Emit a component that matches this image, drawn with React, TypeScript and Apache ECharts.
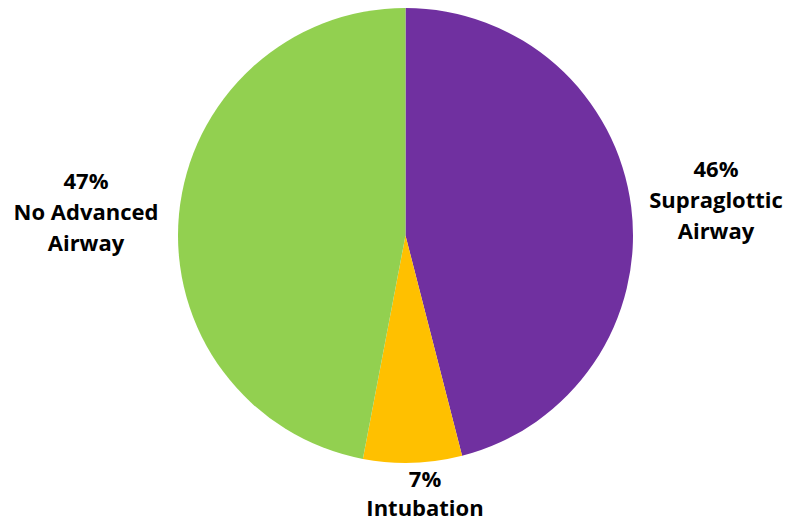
import React, { useEffect, useRef } from "react";
import * as echarts from "echarts";

const categories = ["Supraglottic\nAirway", "Intubation", "No Advanced\nAirway"];
const values = [46, 7, 47];
const colors = ["#7030A0", "#FFC000", "#92D050"];
const labelCenters = [
  [716, 199],
  [425, 492],
  [86, 211],
];
const labelLineHeights = [31, 29, 31];

export default function App() {
  const ref = useRef<HTMLDivElement>(null);
  useEffect(() => {
    const chart = echarts.init(ref.current!, null, { renderer: "svg" });
    chart.setOption({
      animation: false,
      backgroundColor: "#ffffff",
      series: [
        {
          type: "pie",
          center: [405.5, 235.5],
          radius: 227.5,
          startAngle: 90,
          clockwise: true,
          avoidLabelOverlap: false,
          itemStyle: { borderWidth: 0 },
          label: {
            show: true,
            position: "outside",
            formatter: (p: any) => `${p.value}%\n${p.name}`,
            fontFamily: "'Open Sans', sans-serif",
            fontWeight: "bold",
            fontSize: 22,
            lineHeight: 31,
            color: "#000000",
            align: "center",
          },
          labelLine: { show: false },
          labelLayout: (params: any) => ({
            x: labelCenters[params.dataIndex][0],
            y: labelCenters[params.dataIndex][1],
            align: "center",
            verticalAlign: "middle",
          }),
          emphasis: { disabled: true },
          data: categories.map((c, i) => ({
            name: c,
            value: values[i],
            itemStyle: { color: colors[i] },
            label: { lineHeight: labelLineHeights[i] },
          })),
        },
      ],
    });
    return () => chart.dispose();
  }, []);
  return (
    <div
      ref={ref}
      style={{ position: "fixed", left: 0, top: 0, width: 788, height: 522 }}
    />
  );
}
